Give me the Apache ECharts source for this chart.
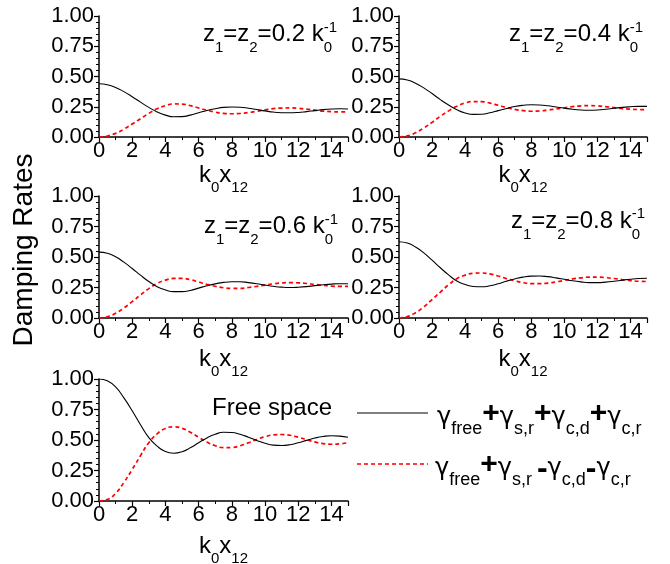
<!DOCTYPE html>
<html>
<head>
<meta charset="utf-8">
<script src="https://cdn.jsdelivr.net/npm/echarts@6/dist/echarts.min.js"></script>
<style>
  html, body { margin: 0; padding: 0; background: #fff; }
  #chart { width: 670px; height: 564px; }
</style>
</head>
<body>
<div id="chart"></div>
<script>
// k0*x12 sample points
const xs = [0, 0.5, 1, 1.5, 2, 2.5, 3, 3.5, 4, 4.5, 5, 5.5, 6, 6.5, 7, 7.5, 8, 8.5, 9, 9.5, 10, 10.5, 11, 11.5, 12, 12.5, 13, 13.5, 14, 14.5, 15];

// gamma_free + gamma_s,r + gamma_c,d + gamma_c,r  (black)
const sumZ02 = [0.44, 0.432, 0.41, 0.375, 0.333, 0.288, 0.245, 0.207, 0.181, 0.167, 0.168, 0.181, 0.2, 0.219, 0.234, 0.245, 0.248, 0.246, 0.238, 0.227, 0.216, 0.206, 0.201, 0.2, 0.203, 0.21, 0.218, 0.226, 0.231, 0.233, 0.232];
const sumZ04 = [0.48, 0.471, 0.445, 0.406, 0.359, 0.309, 0.264, 0.226, 0.199, 0.187, 0.188, 0.2, 0.218, 0.236, 0.252, 0.262, 0.267, 0.265, 0.258, 0.248, 0.238, 0.229, 0.223, 0.221, 0.223, 0.229, 0.237, 0.245, 0.25, 0.253, 0.253];
const sumZ06 = [0.54, 0.53, 0.502, 0.458, 0.406, 0.351, 0.299, 0.257, 0.23, 0.216, 0.216, 0.226, 0.245, 0.264, 0.28, 0.292, 0.297, 0.297, 0.29, 0.281, 0.27, 0.26, 0.253, 0.25, 0.252, 0.257, 0.265, 0.272, 0.278, 0.281, 0.281];
const sumZ08 = [0.625, 0.614, 0.582, 0.534, 0.474, 0.412, 0.353, 0.303, 0.274, 0.258, 0.256, 0.264, 0.281, 0.302, 0.32, 0.335, 0.343, 0.344, 0.339, 0.329, 0.317, 0.305, 0.296, 0.29, 0.29, 0.294, 0.301, 0.31, 0.318, 0.324, 0.326];
const sumFree = [1.0, 0.985, 0.935, 0.845, 0.74, 0.625, 0.52, 0.45, 0.405, 0.392, 0.404, 0.436, 0.477, 0.517, 0.547, 0.563, 0.562, 0.547, 0.523, 0.496, 0.473, 0.458, 0.455, 0.461, 0.477, 0.497, 0.516, 0.529, 0.535, 0.532, 0.522];

// gamma_free + gamma_s,r - gamma_c,d - gamma_c,r  (red dashed)
const diffZ02 = [0, 0.008, 0.03, 0.065, 0.107, 0.152, 0.195, 0.233, 0.259, 0.273, 0.272, 0.259, 0.24, 0.221, 0.206, 0.195, 0.192, 0.194, 0.202, 0.213, 0.224, 0.234, 0.239, 0.24, 0.237, 0.23, 0.222, 0.214, 0.209, 0.207, 0.208];
const diffZ04 = [0, 0.009, 0.035, 0.074, 0.121, 0.171, 0.216, 0.254, 0.281, 0.293, 0.292, 0.28, 0.262, 0.244, 0.228, 0.218, 0.213, 0.215, 0.222, 0.232, 0.242, 0.251, 0.257, 0.259, 0.257, 0.251, 0.243, 0.235, 0.23, 0.227, 0.227];
const diffZ06 = [0, 0.01, 0.038, 0.082, 0.134, 0.189, 0.241, 0.283, 0.31, 0.324, 0.324, 0.314, 0.295, 0.276, 0.26, 0.248, 0.243, 0.243, 0.25, 0.259, 0.27, 0.28, 0.287, 0.29, 0.288, 0.283, 0.275, 0.268, 0.262, 0.259, 0.259];
const diffZ08 = [0, 0.011, 0.043, 0.091, 0.151, 0.213, 0.272, 0.322, 0.351, 0.367, 0.369, 0.361, 0.344, 0.323, 0.305, 0.29, 0.282, 0.281, 0.286, 0.296, 0.308, 0.32, 0.329, 0.335, 0.335, 0.331, 0.324, 0.315, 0.307, 0.301, 0.299];
const diffFree = [0, 0.012, 0.062, 0.152, 0.258, 0.372, 0.478, 0.55, 0.595, 0.608, 0.596, 0.564, 0.523, 0.483, 0.453, 0.437, 0.438, 0.453, 0.477, 0.504, 0.527, 0.542, 0.545, 0.539, 0.523, 0.503, 0.484, 0.471, 0.465, 0.468, 0.478];

const sumSets = [sumZ02, sumZ04, sumZ06, sumZ08, sumFree];
const diffSets = [diffZ02, diffZ04, diffZ06, diffZ08, diffFree];
const zValues = ["0.2", "0.4", "0.6", "0.8"];

const FONT = '"Liberation Sans", Arial, sans-serif';
const GREEK = '"DejaVu Sans", "Liberation Sans", sans-serif';

const grids = [
  { left: 99, top: 16, width: 249, height: 121 },
  { left: 399, top: 16, width: 248, height: 121 },
  { left: 99, top: 196, width: 249, height: 122 },
  { left: 399, top: 196, width: 248, height: 122 },
  { left: 99, top: 379, width: 249, height: 122 },
];
const nameGaps = [22, 22, 25, 25, 29];

const chart = echarts.init(document.getElementById("chart"));

const xAxes = grids.map((g, i) => ({
  gridIndex: i,
  type: "value",
  min: 0,
  max: 15,
  interval: 2,
  axisLine: { show: true, onZero: false, lineStyle: { color: "#000", width: 1.5 } },
  axisTick: { show: true, length: 5, lineStyle: { color: "#000", width: 1.2 } },
  minorTick: { show: true, splitNumber: 2, length: 3, lineStyle: { color: "#000", width: 1 } },
  splitLine: { show: false },
  axisLabel: { color: "#000", fontSize: 22, fontFamily: FONT, margin: 3, showMaxLabel: false },
  name: "{m|k}{s|0}{m|x}{s|12}",
  nameLocation: "middle",
  nameGap: nameGaps[i],
  nameMoveOverlap: false,
  nameTextStyle: {
    rich: {
      m: { fontSize: 24, fontFamily: FONT, color: "#000", lineHeight: 32 },
      s: { fontSize: 15, fontFamily: FONT, color: "#000", lineHeight: 32, padding: [25, 0, 0, 0] },
    },
  },
}));

const yAxes = grids.map((g, i) => ({
  gridIndex: i,
  type: "value",
  min: 0,
  max: 1,
  interval: 0.25,
  axisLine: { show: true, onZero: false, lineStyle: { color: "#000", width: 1.5 } },
  axisTick: { show: true, length: 5, lineStyle: { color: "#000", width: 1.2 } },
  minorTick: { show: true, splitNumber: 5, length: 3, lineStyle: { color: "#000", width: 1 } },
  splitLine: { show: false },
  axisLabel: {
    color: "#000", fontSize: 22, fontFamily: FONT, margin: 5,
    formatter: (v) => v.toFixed(2),
  },
}));

const series = [];
grids.forEach((g, i) => {
  series.push({
    name: "diff",
    type: "line",
    xAxisIndex: i,
    yAxisIndex: i,
    symbol: "none",
    smooth: true,
    z: 2,
    lineStyle: { color: "#ff0000", width: 1.7, type: [4, 3] },
    data: xs.map((x, k) => [x, diffSets[i][k]]),
  });
  series.push({
    name: "sum",
    type: "line",
    xAxisIndex: i,
    yAxisIndex: i,
    symbol: "none",
    smooth: true,
    z: 3,
    lineStyle: { color: "#000", width: 1.1 },
    data: xs.map((x, k) => [x, sumSets[i][k]]),
  });
});

// panel labels: right edge, main middle, superscript middle
const titlePos = [
  { r: 332, y: 34.7, sy: 27.8 },
  { r: 638, y: 34.7, sy: 27.8 },
  { r: 333, y: 226.7, sy: 219.8 },
  { r: 640, y: 221.7, sy: 213.8 },
];

const graphics = [];
titlePos.forEach((p, i) => {
  graphics.push({
    type: "text",
    style: {
      x: p.r, y: p.y, align: "right", verticalAlign: "middle",
      text: "{m|z}{s|1}{m|=z}{s|2}{m|=" + zValues[i] + " k}{s|0}",
      rich: {
        m: { fontSize: 24, fontFamily: FONT, fill: "#000", lineHeight: 36 },
        s: { fontSize: 15, fontFamily: FONT, fill: "#000", lineHeight: 36, padding: [26, 0, 0, 0] },
      },
    },
  });
  graphics.push({
    type: "text",
    style: {
      x: p.r - 8.3, y: p.sy, align: "left", verticalAlign: "middle",
      text: "-1", fontSize: 15, fontFamily: FONT, fill: "#000",
    },
  });
});

graphics.push({
  type: "text",
  style: { x: 212, y: 408.7, align: "left", verticalAlign: "middle", text: "Free space", fontSize: 24, fontFamily: FONT, fill: "#000" },
});

graphics.push({
  type: "text",
  x: 24, y: 250, rotation: Math.PI / 2,
  style: { x: 0, y: 0, align: "center", verticalAlign: "middle", text: "Damping Rates", fontSize: 28, fontFamily: FONT, fill: "#000" },
});

// legend
const legendRich = {
  g: { fontSize: 24, fontFamily: GREEK, fill: "#000", lineHeight: 44, padding: [9, 0, 0, 0] },
  s: { fontSize: 18, fontFamily: FONT, fill: "#000", lineHeight: 44, padding: [32, 0, 0, 0] },
  p: { fontSize: 30, fontFamily: FONT, fontWeight: "bold", fill: "#000", lineHeight: 44, padding: [2, 0, 0, 0] },
  n: { fontSize: 32, fontFamily: FONT, fontWeight: "bold", fill: "#000", lineHeight: 44, padding: [10, 0, 0, 0] },
};
graphics.push({
  type: "line",
  shape: { x1: 357, y1: 413, x2: 428, y2: 413 },
  style: { stroke: "#000", lineWidth: 1.1 },
});
graphics.push({
  type: "line",
  shape: { x1: 357, y1: 464, x2: 428, y2: 464 },
  style: { stroke: "#ff0000", lineWidth: 1.5, lineDash: [4, 3] },
});
graphics.push({
  type: "text",
  style: {
    x: 437, y: 413, align: "left", verticalAlign: "middle",
    text: "{g|γ}{s|free}{p|+}{g|γ}{s|s,r}{p|+}{g|γ}{s|c,d}{p|+}{g|γ}{s|c,r}",
    rich: legendRich,
  },
});
graphics.push({
  type: "text",
  style: {
    x: 435, y: 464, align: "left", verticalAlign: "middle",
    text: "{g|γ}{s|free}{p|+}{g|γ}{s|s,r }{n|-}{g|γ}{s|c,d}{n|-}{g|γ}{s|c,r}",
    rich: legendRich,
  },
});

chart.setOption({
  backgroundColor: "#fff",
  animation: false,
  grid: grids.map((g) => Object.assign({ outerBoundsMode: "none" }, g)),
  xAxis: xAxes,
  yAxis: yAxes,
  series: series,
  graphic: graphics,
});
</script>
</body>
</html>
